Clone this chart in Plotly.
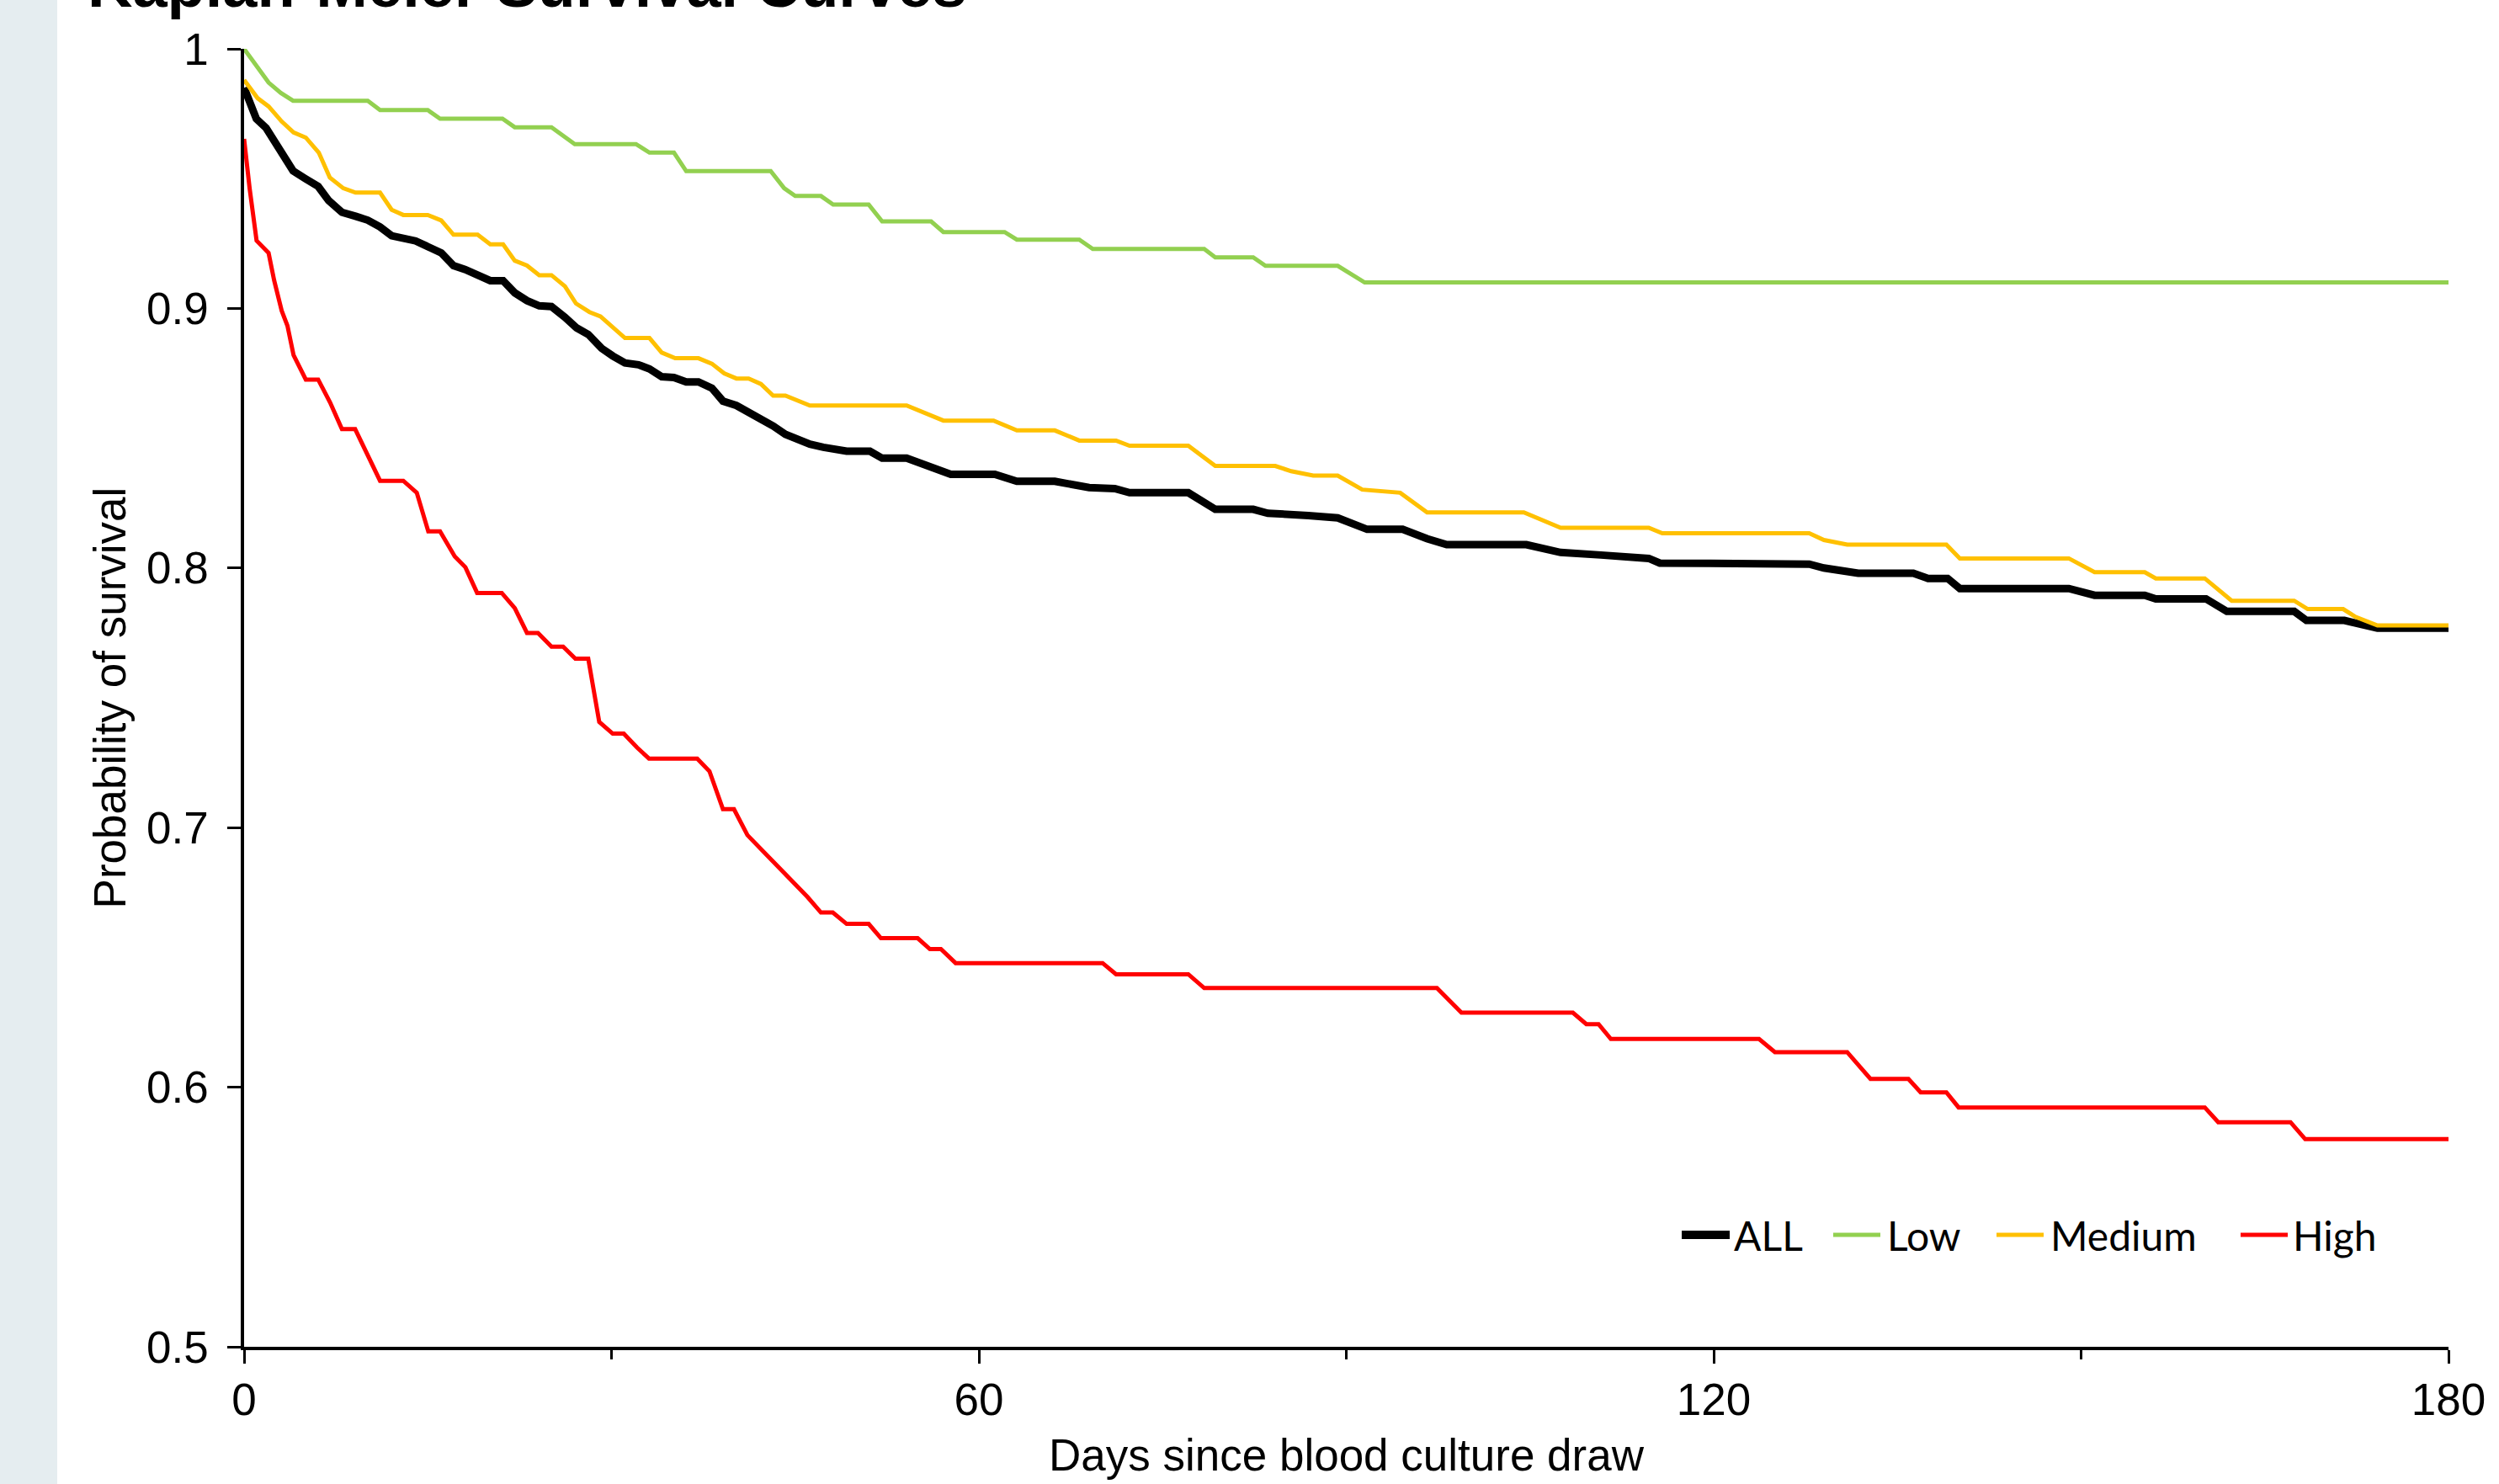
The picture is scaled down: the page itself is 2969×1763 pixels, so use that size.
import plotly.graph_objects as go

# ---------------- data ----------------
series_names = ["ALL", "Low", "Medium", "High"]
series_colors = ["#000000", "#92D050", "#FFC000", "#FF0000"]
series_widths = [9, 5, 5, 5]

all_days = [0, 1.0, 1.8, 2.5, 3.25, 4.0, 5.0, 6.05, 6.9, 8.0, 9.1, 10.1, 11.1, 12.05, 14.0, 15.1,
            16.1, 17.1, 18.05, 20.1, 21.15, 22.1, 23.1, 24.1, 25.1, 26.2, 27.15, 28.1, 29.2, 30.1,
            31.1, 32.2, 33.1, 34.1, 35.1, 36.1, 37.1, 38.2, 39.1, 40.2, 41.2, 42.2, 43.2, 44.2, 45.2,
            46.2, 47.3, 48.2, 49.2, 51.1, 52.1, 54.1, 55.2, 56.0, 57.7, 61.3, 63.1, 66.2, 69.0, 71.1,
            72.3, 77.1, 79.3, 82.4, 83.6, 86.9, 89.3, 91.7, 94.6, 96.6, 98.2, 104.7, 107.5, 110.8,
            114.7, 115.6, 124.2, 127.8, 129.0, 131.8, 136.3, 137.5, 139.1, 140.1, 149.0, 151.1,
            155.2, 156.1, 160.2, 161.9, 167.4, 168.4, 171.5, 172.5, 174.2, 180]
all_surv = [0.985, 0.973, 0.9695, 0.9645, 0.959, 0.953, 0.950, 0.947, 0.9416, 0.937, 0.9355, 0.934,
            0.9314, 0.928, 0.926, 0.9234, 0.9214, 0.9165, 0.915, 0.9107, 0.9107, 0.906, 0.903, 0.901,
            0.9007, 0.8966, 0.8925, 0.890, 0.8846, 0.8817, 0.879, 0.8783, 0.8767, 0.8737, 0.8734,
            0.8717, 0.8717, 0.8693, 0.8643, 0.8626, 0.860, 0.8577, 0.8547, 0.8515, 0.8494, 0.8477,
            0.8465, 0.846, 0.845, 0.845, 0.8423, 0.8423, 0.8403, 0.8385, 0.8361, 0.8361, 0.8334,
            0.8334, 0.831, 0.8306, 0.829, 0.829, 0.8226, 0.8226, 0.8211, 0.8202, 0.8193, 0.8149,
            0.8149, 0.8113, 0.809, 0.809, 0.806, 0.805, 0.8037, 0.8019, 0.8019, 0.8015, 0.800, 0.798,
            0.798, 0.796, 0.796, 0.7921, 0.7921, 0.7895, 0.7895, 0.7881, 0.7881, 0.7833, 0.7833,
            0.7798, 0.7798, 0.7786, 0.7768, 0.7768]

low_days = [0, 1.1, 2.0, 3.0, 4.0, 10.1, 11.1, 15.0, 16.0, 21.1, 22.1, 25.1, 27.0, 32.0, 33.1, 35.1,
            36.1, 43.0, 44.1, 45.0, 47.1, 48.1, 51.0, 52.1, 56.1, 57.1, 62.1, 63.1, 68.2, 69.3, 78.4,
            79.3, 82.4, 83.4, 89.3, 91.5, 180]
low_surv = [1.0, 0.993, 0.987, 0.983, 0.980, 0.980, 0.9764, 0.9764, 0.9731, 0.9731, 0.9698, 0.9698,
            0.9633, 0.9633, 0.960, 0.960, 0.9529, 0.9529, 0.9463, 0.9433, 0.9433, 0.940, 0.940,
            0.9335, 0.9335, 0.9294, 0.9294, 0.9265, 0.9265, 0.9229, 0.9229, 0.9197, 0.9197, 0.9164,
            0.9164, 0.910, 0.910]

med_days = [0, 1.1, 2.0, 3.07, 4.04, 5.04, 6.1, 7.0, 8.1, 9.1, 11.1, 12.05, 13.0, 15.0, 16.1, 17.1,
            19.07, 20.1, 21.15, 22.1, 23.1, 24.1, 25.1, 26.2, 27.1, 28.2, 29.1, 30.1, 31.1, 33.1,
            34.1, 35.2, 37.1, 38.2, 39.2, 40.2, 41.2, 42.2, 43.2, 44.2, 46.2, 54.1, 56.0, 57.1, 61.2,
            63.1, 66.2, 68.2, 71.2, 72.3, 77.1, 79.3, 84.2, 85.5, 87.3, 89.3, 91.3, 94.4, 96.6,
            104.5, 107.5, 114.7, 115.8, 127.8, 129.0, 130.9, 139.0, 140.1, 149.0, 151.1, 155.2,
            156.1, 160.1, 162.3, 167.4, 168.5, 171.4, 172.4, 174.2, 180]
med_surv = [0.988, 0.981, 0.9778, 0.972, 0.9678, 0.9658, 0.960, 0.9504, 0.9463, 0.9446, 0.9446,
            0.938, 0.936, 0.936, 0.9339, 0.9284, 0.9284, 0.9247, 0.9247, 0.9184, 0.9165, 0.9128,
            0.9128, 0.9085, 0.9019, 0.8986, 0.8969, 0.8925, 0.8886, 0.8886, 0.883, 0.8808, 0.8808,
            0.8787, 0.875, 0.873, 0.873, 0.8709, 0.8664, 0.8664, 0.8626, 0.8626, 0.8588, 0.8568,
            0.8568, 0.853, 0.853, 0.8491, 0.8491, 0.8471, 0.8471, 0.8393, 0.8393, 0.8373, 0.8356,
            0.8356, 0.8302, 0.829, 0.8214, 0.8214, 0.8155, 0.8155, 0.8134, 0.8134, 0.8108, 0.809,
            0.809, 0.8037, 0.8037, 0.7984, 0.7984, 0.796, 0.796, 0.7874, 0.7874, 0.7842, 0.7842,
            0.7812, 0.7779, 0.7779]

high_days = [0, 0.45, 1.02, 2.0, 2.46, 3.07, 3.54, 4.04, 5.04, 6.05, 7.02, 7.99, 9.07, 10.08, 11.1,
             13.0, 14.1, 15.04, 16.0, 17.2, 18.07, 19.03, 21.04, 22.1, 23.1, 24.0, 25.1, 26.05,
             27.05, 28.1, 29.0, 30.1, 31.0, 32.1, 33.06, 37.0, 38.0, 39.1, 40.0, 41.1, 42.1, 43.05,
             44.0, 45.0, 46.0, 47.1, 48.07, 49.2, 51.0, 52.0, 55.0, 56.0, 56.9, 58.1, 70.1, 71.2,
             77.1, 78.4, 97.4, 99.4, 108.5, 109.6, 110.6, 111.6, 123.7, 125.0, 130.9, 132.8, 135.9,
             136.9, 139.0, 140.0, 160.1, 161.2, 167.1, 168.3, 180]
high_surv = [0.9653, 0.9463, 0.9261, 0.9214, 0.9107, 0.8991, 0.8933, 0.882, 0.8726, 0.8726, 0.8638,
             0.8535, 0.8535, 0.8439, 0.8336, 0.8336, 0.829, 0.8141, 0.8141, 0.8045, 0.8003, 0.7904,
             0.7904, 0.7846, 0.775, 0.775, 0.7697, 0.7697, 0.7651, 0.7651, 0.7407, 0.7362, 0.7362,
             0.7308, 0.7266, 0.7266, 0.7217, 0.7071, 0.7071, 0.6971, 0.6922, 0.6877, 0.6827, 0.6778,
             0.6733, 0.6673, 0.6673, 0.6629, 0.6629, 0.6574, 0.6574, 0.6532, 0.6532, 0.6478, 0.6478,
             0.6435, 0.6435, 0.6382, 0.6382, 0.6287, 0.6287, 0.6243, 0.6243, 0.6186, 0.6186, 0.6135,
             0.6135, 0.6032, 0.6032, 0.598, 0.598, 0.5922, 0.5922, 0.5865, 0.5865, 0.580, 0.580]

x_tick_vals = [0, 60, 120, 180]
x_tick_text = ["0", "60", "120", "180"]
x_minor_vals = [30, 90, 150]
y_tick_vals = [0.5, 0.6, 0.7, 0.8, 0.9, 1.0]
y_tick_text = ["0.5", "0.6", "0.7", "0.8", "0.9", "1"]

title_text = "Kaplan-Meier Survival Curves"
x_title = "Days since blood culture draw"
y_title = "Probability of survival"

# ---------------- figure ----------------
all_x = [all_days, low_days, med_days, high_days]
all_y = [all_surv, low_surv, med_surv, high_surv]

fig = go.Figure()
for name, xs, ys, col, w in zip(series_names, all_x, all_y, series_colors, series_widths):
    fig.add_trace(go.Scatter(x=xs, y=ys, mode="lines", name=name,
                             line=dict(color=col, width=w), showlegend=False))

W, H = 2969, 1763
ML, MR, MT, MB = 290, 60, 58, 163
PW, PH = W - ML - MR, H - MT - MB


def px_x(px):
    return (px - ML) / PW


def px_y(py):
    return (H - MB - py) / PH


tick_font = dict(family="Liberation Sans, Arial, sans-serif", size=53, color="black")
title_font = dict(family="Liberation Sans, Arial, sans-serif", size=53, color="black")

fig.update_layout(
    width=W, height=H,
    margin=dict(l=ML, r=MR, t=MT, b=MB, pad=0),
    paper_bgcolor="white", plot_bgcolor="white",
    font=tick_font,
    showlegend=False,
    xaxis=dict(range=[0, 180], tickvals=x_tick_vals, ticktext=x_tick_text,
               ticks="outside", ticklen=16, tickwidth=3, tickcolor="black",
               minor=dict(tickvals=x_minor_vals, ticks="outside", ticklen=11,
                          tickwidth=3, tickcolor="black"),
               showline=True, linewidth=3.5, linecolor="black",
               showgrid=False, zeroline=False, tickfont=tick_font,
               ticklabelstandoff=-2,
               title=dict(text=x_title, font=title_font, standoff=20)),
    yaxis=dict(range=[0.5, 1.0], tickvals=y_tick_vals, ticktext=y_tick_text,
               ticks="outside", ticklen=16, tickwidth=3, tickcolor="black",
               showline=True, linewidth=3.5, linecolor="black",
               showgrid=False, zeroline=False, tickfont=tick_font,
               ticklabelstandoff=12,
               title=dict(text=y_title, font=title_font, standoff=8)),
)

# light side strip on the left edge
fig.add_shape(type="rect", xref="paper", yref="paper",
              x0=px_x(-5), x1=px_x(68), y0=px_y(H + 20), y1=px_y(-20),
              fillcolor="#E5EDF0", line=dict(width=0), layer="below")

# cut-off title at the top
fig.add_annotation(text="<b>" + title_text + "</b>", xref="paper", yref="paper",
                   x=px_x(102), xanchor="left", y=px_y(26), yanchor="bottom",
                   showarrow=False,
                   font=dict(family="Liberation Sans, Arial, sans-serif", size=74, color="black"))

# legend drawn inside the plot, bottom right
legend_y = 1467
legend_line_x = [(1998, 2055), (2178, 2234), (2372, 2428), (2662, 2718)]
legend_text_x = [2058, 2240, 2434, 2722]
legend_line_w = [10, 5, 5, 5]
for name, col, (lx0, lx1), tx, lw in zip(series_names, series_colors, legend_line_x,
                                         legend_text_x, legend_line_w):
    fig.add_shape(type="line", xref="paper", yref="paper",
                  x0=px_x(lx0), x1=px_x(lx1), y0=px_y(legend_y), y1=px_y(legend_y),
                  line=dict(color=col, width=lw))
    fig.add_annotation(text=name, xref="paper", yref="paper", x=px_x(tx), xanchor="left",
                       y=px_y(legend_y), yanchor="middle", showarrow=False,
                       font=dict(family="Lato, sans-serif", size=48, color="black"))

fig.write_html("out.html", config={"displayModeBar": False},
               post_script="document.body.style.margin='0';")
